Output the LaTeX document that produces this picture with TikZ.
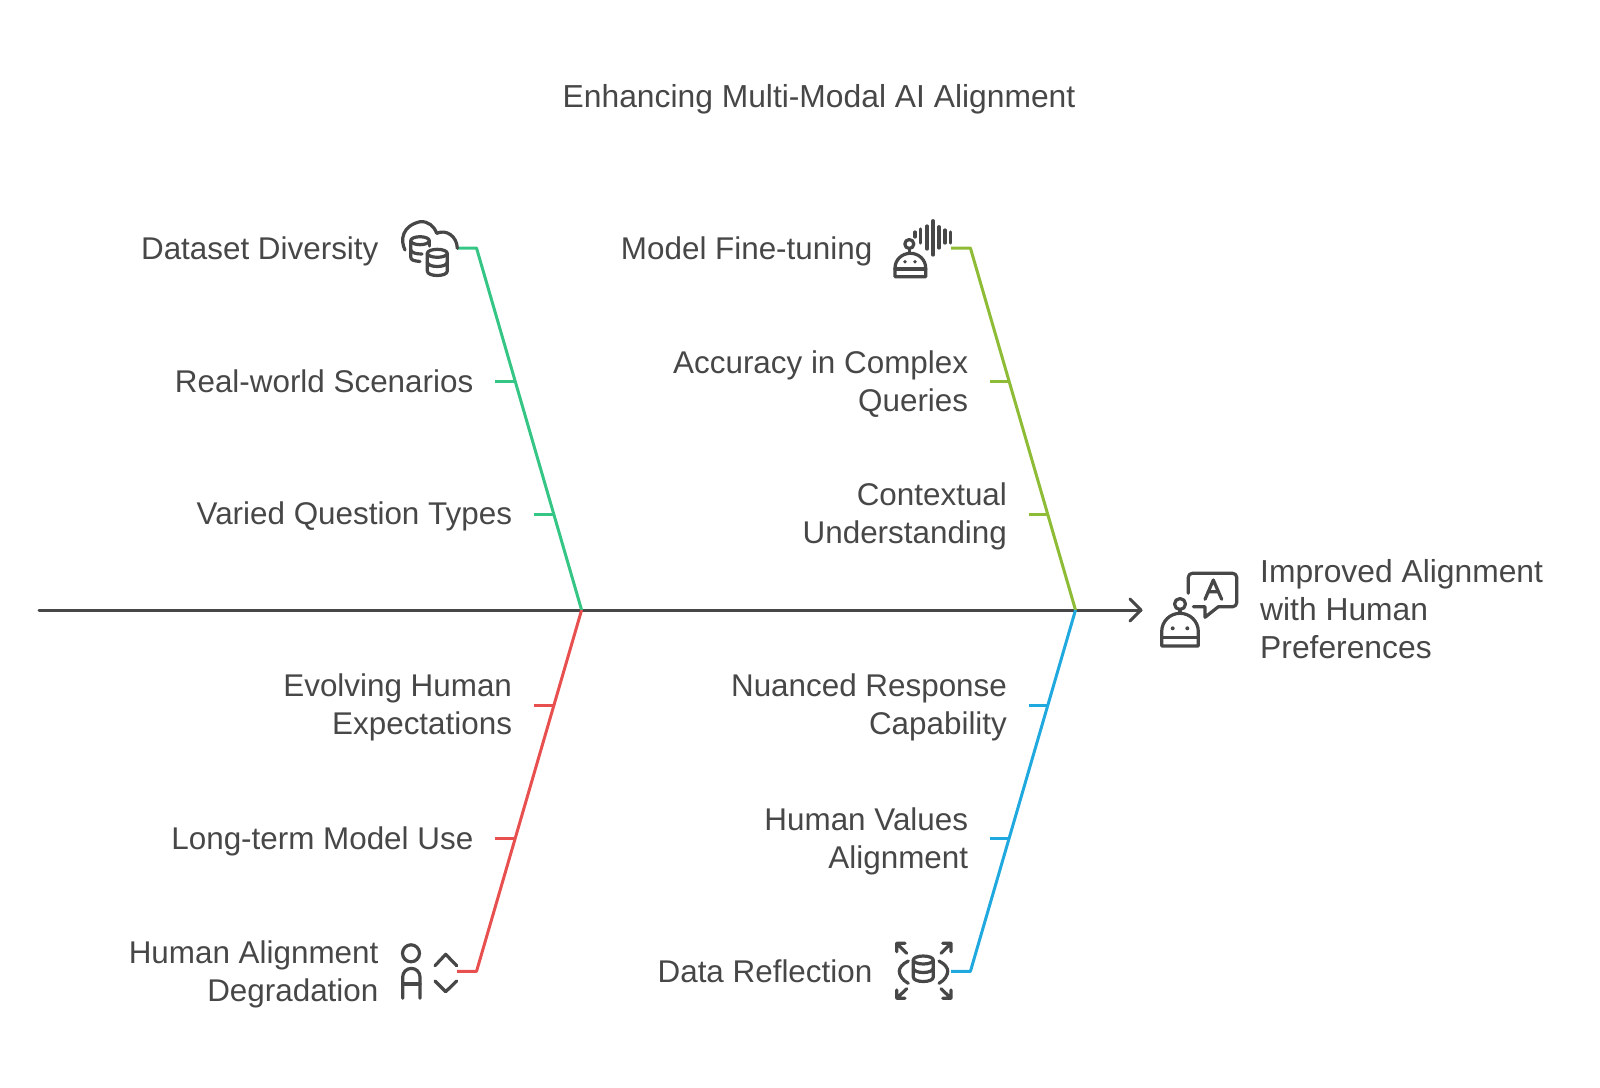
\documentclass[tikz,border=0pt]{standalone}
\usepackage{fontspec}
\setmainfont{Liberation Sans}
\definecolor{inkgray}{HTML}{474747}
\definecolor{bonegreen}{HTML}{35C585}
\definecolor{boneolive}{HTML}{8FBC36}
\definecolor{bonered}{HTML}{E8504F}
\definecolor{boneblue}{HTML}{20A9DE}
\tikzset{
  labelfont/.style={text=inkgray,text depth=0pt,font=\fontsize{31.8}{38}\selectfont},
  causetext/.style={text=inkgray,text depth=1.6pt,font=\fontsize{31.4}{38}\selectfont,anchor=east,align=right,inner xsep=21.5,inner ysep=0},
  icontext/.style={causetext,text depth=0pt,inner xsep=0},
  iconbox/.style={minimum width=55,minimum height=55,inner sep=0},
  bone/.style={line width=3},
  icon/.style={draw=inkgray,line width=3.2,line cap=round,line join=round},
  eyedot/.style={fill=inkgray},
}
\begin{document}
\begin{tikzpicture}[x=1pt,y=-1pt]
    \useasboundingbox (0,0) rectangle (1600,1087);
    \node (title) at (819,96) [labelfont] {Enhancing Multi-Modal AI Alignment};
    % spine
    \coordinate (tail) at (39,610);
    \coordinate (jointL) at (581.6,610);
    \coordinate (jointR) at (1075.5,610);
    \coordinate (head) at (1141,610);
    \draw[inkgray,line width=3,line cap=round] (tail) -- (head);
    \draw[inkgray,line width=3,line cap=round,line join=round] (1130,599) -- (head) -- (1130,621);
    % upper left
    \node[icontext] (dsdiv) at (378.6,248) {Dataset Diversity};
    \node[iconbox] (dsicon) at (429.5,248) {};
    \coordinate (gTop) at (476.5,248);
    \node[causetext] (realw) at (495,381.6) {Real-world Scenarios};
    \coordinate (gA) at (515.3,381.6);
    \node[causetext] (varied) at (533.7,514.3) {Varied Question Types};
    \coordinate (gB) at (554,514.3);
    \draw[bonegreen,bone,line join=round] (dsicon.east) -- (gTop) -- (jointL);
    \draw[bonegreen,bone] (realw.east) -- (gA);
    \draw[bonegreen,bone] (varied.east) -- (gB);
    % upper right
    \node[icontext] (finetune) at (872.5,248) {Model Fine-tuning};
    \node[iconbox,minimum width=56] (wvicon) at (923,248) {};
    \coordinate (oTop) at (970.4,248);
    \node[causetext] (accur) at (989.8,381.6) {Accuracy in Complex\\Queries};
    \coordinate (oA) at (1009.2,381.6);
    \node[causetext] (context) at (1028.6,514.3) {Contextual\\Understanding};
    \coordinate (oB) at (1048,514.3);
    \draw[boneolive,bone,line join=round] (wvicon.east) -- (oTop) -- (jointR);
    \draw[boneolive,bone] (accur.east) -- (oA);
    \draw[boneolive,bone] (context.east) -- (oB);
    % lower left
    \node[causetext] (evolve) at (533.7,705) {Evolving Human\\Expectations};
    \coordinate (rA) at (554,705);
    \node[causetext] (longterm) at (495,838.8) {Long-term Model Use};
    \coordinate (rB) at (515.3,838.8);
    \node[icontext] (degrade) at (378.6,971.4) {Human Alignment\\Degradation};
    \node[iconbox] (haicon) at (429.5,971.4) {};
    \coordinate (rBot) at (476.5,971.4);
    \draw[bonered,bone,line join=round] (haicon.east) -- (rBot) -- (jointL);
    \draw[bonered,bone] (evolve.east) -- (rA);
    \draw[bonered,bone] (longterm.east) -- (rB);
    % lower right
    \node[causetext] (nuance) at (1028.6,705) {Nuanced Response\\Capability};
    \coordinate (bA) at (1048,705);
    \node[causetext] (values) at (989.8,838.8) {Human Values\\Alignment};
    \coordinate (bB) at (1009.2,838.8);
    \node[icontext] (reflect) at (872.5,971.4) {Data Reflection};
    \node[iconbox,minimum width=56] (dricon) at (923,971.4) {};
    \coordinate (bBot) at (970.4,971.4);
    \draw[boneblue,bone,line join=round] (dricon.east) -- (bBot) -- (jointR);
    \draw[boneblue,bone] (nuance.east) -- (bA);
    \draw[boneblue,bone] (values.east) -- (bB);
    % effect
    \node (effect) at (1260,609) [labelfont,anchor=west,align=left,inner sep=0] {Improved Alignment\\with Human\\Preferences};
    % cloud and stores
    \draw[icon] (405,250) .. controls (400,240) and (402,226) .. (420,221.7) .. controls (428,221) and (434,226) .. (436.7,233.3);
    \draw[icon] (436.7,233.3) .. controls (446,229) and (457,236) .. (457.3,248.3);
    \draw[icon] (420,240.7) ellipse (9.3 and 4);
    \draw[icon] (410.7,240.7) -- (410.7,257) .. controls (410.7,260) and (414,261) .. (420,261.5);
    \draw[icon] (410.7,250) .. controls (412,253) and (416,254) .. (422,254);
    \draw[icon] (429.3,240.7) -- (429.3,246);
    \draw[icon] (437.3,253.3) ellipse (10 and 4);
    \draw[icon] (427.3,253.3) -- (427.3,271) .. controls (427.3,277) and (447.3,277) .. (447.3,271) -- (447.3,253.3);
    \draw[icon] (427.3,262) .. controls (427.3,268) and (447.3,268) .. (447.3,262);
    % robot with sound bars
    \draw[icon] (895,269) -- (925.7,269);
    \draw[icon] (895,276.7) -- (895,268) arc[start angle=180,end angle=360,x radius=15.35,y radius=14.7] -- (925.7,276.7) -- cycle;
    \draw[icon] (909.3,244) circle (4.5);
    \draw[icon] (909.3,248.5) -- (909.3,253.3);
    \fill[eyedot] (905,261.7) circle (1.9) (915,261.7) circle (1.9);
    \draw[icon] (915,232) -- (915,237) (920.7,229) -- (920.7,243) (927,226) -- (927,249) (933,220.7) -- (933,255)
      (939,226.7) -- (939,248) (945,230) -- (945,243) (950.7,232) -- (950.7,243);
    % person and chevrons
    \draw[icon] (411,953.3) circle (8.5);
    \draw[icon] (402.7,998.3) -- (402.7,977) arc[start angle=180,end angle=360,radius=8.65] -- (420,998.3);
    \draw[icon] (402.7,984) -- (420,984);
    \draw[icon] (435,965.7) -- (445.7,954.3) -- (456.7,965.7);
    \draw[icon] (435,981) -- (445.7,991.7) -- (456.7,981);
    % store with outward arrows
    \draw[icon] (923.3,960) ellipse (10 and 4);
    \draw[icon] (913.3,960) -- (913.3,977) .. controls (913.3,983) and (933.3,983) .. (933.3,977) -- (933.3,960);
    \draw[icon] (913.3,968) .. controls (913.3,974) and (933.3,974) .. (933.3,968);
    \draw[icon] (908.3,961) .. controls (902,964) and (899.3,968) .. (899.3,971) .. controls (899.3,975) and (902,980) .. (908.3,983.3);
    \draw[icon] (939,961) .. controls (945,964) and (947.7,968) .. (947.7,971) .. controls (947.7,975) and (945,980) .. (939,983.3);
    \draw[icon] (896.7,951.7) -- (896.7,943.3) -- (905,943.3) (896.7,943.3) -- (906.7,953.3);
    \draw[icon] (942.7,943.3) -- (951,943.3) -- (951,951.7) (951,943.3) -- (941,953.3);
    \draw[icon] (896.7,990) -- (896.7,998.3) -- (905,998.3) (896.7,998.3) -- (906.7,988.7);
    \draw[icon] (942.7,998.3) -- (951,998.3) -- (951,990) (951,998.3) -- (941,988.7);
    % robot with speech bubble
    \draw[icon] (1161.7,637.7) -- (1198.3,637.7);
    \draw[icon] (1161.7,646) -- (1161.7,631.5) arc[start angle=180,end angle=360,x radius=18.3,y radius=18.2] -- (1198.3,646) -- cycle;
    \draw[icon] (1180,604) circle (5.5);
    \draw[icon] (1180,609.5) -- (1180,613.3);
    \fill[eyedot] (1172.7,628.3) circle (2) (1187.3,628.3) circle (2);
    \draw[icon,rounded corners=4] (1188.3,593.3) -- (1188.3,573.3) -- (1236.7,573.3) -- (1236.7,606.7) -- (1218.3,606.7);
    \draw[icon] (1218.3,606.7) -- (1205,617.3) -- (1205,606.7) -- (1193.3,606.7);
    \draw[icon] (1205,599.3) -- (1213.3,580) -- (1221.7,599.3) (1208,591.7) -- (1218.7,591.7);
\end{tikzpicture}
\end{document}
